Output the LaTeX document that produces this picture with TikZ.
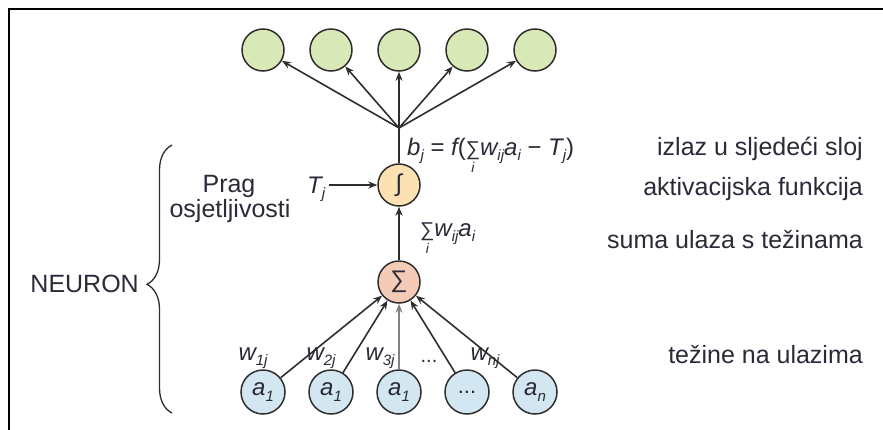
\documentclass[tikz,border=0pt]{standalone}
\usepackage{fontspec}
\setmainfont{Liberation Sans}
\usetikzlibrary{arrows.meta,decorations.pathreplacing}
\definecolor{txt}{HTML}{2A2A38}
\definecolor{ln}{HTML}{2E2E2E}
\definecolor{grn}{HTML}{D8E8B6}
\definecolor{org}{HTML}{FCE2B2}
\definecolor{sal}{HTML}{F4CBB6}
\definecolor{blu}{HTML}{D3E7F3}
\newcommand\sbs[1]{\raisebox{-0.45ex}{\fontsize{15}{15}\selectfont\itshape #1}}
\newcommand\sumi{\begin{tabular}[t]{@{}c@{}}\fontsize{20}{20}\selectfont\char"2211\\[-9pt]\fontsize{14}{14}\selectfont\itshape i\end{tabular}}
\begin{document}
\begin{tikzpicture}[x=1pt,y=-1pt,
  every node/.style={text=txt},
  lbl/.style={font=\fontsize{25}{28}\selectfont},
  mth/.style={font=\fontsize{24}{26}\selectfont},
  neur/.style={circle,draw=ln,line width=1.5pt,minimum size=42pt,inner sep=0pt},
  outn/.style={neur,fill=grn},
  inn/.style={neur,fill=blu,minimum size=44pt},
  conn/.style={draw=ln,line width=1.6pt},
  arr/.style={conn,-{Stealth[length=9pt,width=7pt]}}
]
\useasboundingbox (0,0) rectangle (883,429);
\clip (0,0) rectangle (883,429);
\draw[line width=2.5pt,black] (9,440) -- (9,9) -- (900,9);

% output layer
\foreach \i/\x in {1/263,2/331,3/399,4/467,5/535}
  \node[outn] (o\i) at (\x,50) {};
\coordinate (c) at (399,128);

% neuron parts
\node[neur,fill=org] (act) at (399,185) {\fontsize{24}{24}\selectfont\char"222B};
\node[neur,fill=sal] (sum) at (399,282) {\fontsize{24}{24}\selectfont\char"2211};

% inputs
\node[inn] (i1) at (263,392) {\fontsize{24}{24}\selectfont\itshape a\sbs{1}};
\node[inn] (i2) at (331,392) {\fontsize{24}{24}\selectfont\itshape a\sbs{1}};
\node[inn] (i3) at (399,392) {\fontsize{24}{24}\selectfont\itshape a\sbs{1}};
\node[inn] (i4) at (467,392) {\fontsize{22}{22}\selectfont ...};
\node[inn] (i5) at (535,392) {\fontsize{24}{24}\selectfont\itshape a\sbs{n}};

% connectors
\draw[conn] (act) -- (c);
\foreach \i in {1,...,5} \draw[arr] (c) -- (o\i);
\draw[arr] (sum) -- (act);
\draw[arr] (i1) -- (sum);
\draw[arr] (i2) -- (sum);
\draw[arr,draw=ln!60] (i3) -- (sum);
\draw[arr] (i4) -- (sum);
\draw[arr] (i5) -- (sum);

% threshold
\node[mth,anchor=base west,inner sep=0pt] (tj) at (307,193) {\itshape T\sbs{j}};
\coordinate (tjs) at ([xshift=4pt]tj.east |- act.west);
\draw[arr] (tjs) -- (act.west);
\node[lbl,anchor=base,inner sep=0pt] (prag) at (229,192) {Prag};
\node[lbl,anchor=base,inner sep=0pt] (osj) at (230,217) {osjetljivosti};

% formulas
\node[mth,anchor=base west,inner sep=0pt] (fb) at (407,155)
  {\itshape b\sbs{j}\upshape\ = \itshape f\upshape(\sumi\itshape w\sbs{ij}a\sbs{i}\upshape\ \char"2212\ \itshape T\sbs{j}\upshape)};
\node[mth,anchor=base west,inner sep=0pt] (fs) at (420,236)
  {\sumi\itshape w\sbs{ij}a\sbs{i}};

% weights
\node[mth,anchor=base,inner sep=0pt] (w1) at (253,360) {\itshape w\sbs{1j}};
\node[mth,anchor=base,inner sep=0pt] (w2) at (321,360) {\itshape w\sbs{2j}};
\node[mth,anchor=base,inner sep=0pt] (w3) at (380,360) {\itshape w\sbs{3j}};
\node[mth,anchor=base,inner sep=0pt] (wd) at (429,362) {\fontsize{20}{20}\selectfont ...};
\node[mth,anchor=base,inner sep=0pt] (wn) at (485,360) {\itshape w\sbs{nj}};

% right descriptions
\node[lbl,anchor=base east,inner sep=0pt] (d1) at (863,155) {izlaz u sljedeći sloj};
\node[lbl,anchor=base east,inner sep=0pt] (d2) at (863,195) {aktivacijska funkcija};
\node[lbl,anchor=base east,inner sep=0pt] (d3) at (863,248) {suma ulaza s težinama};
\node[lbl,anchor=base east,inner sep=0pt] (d4) at (863,363) {težine na ulazima};

% brace and NEURON
\draw[ln,line width=1.3pt,decorate,decoration={brace,amplitude=25pt,aspect=0.48}] (172,413) -- (172,145);
\node[lbl,anchor=base east,inner sep=0pt] (neuron) at (139,292) {NEURON};
\end{tikzpicture}
\end{document}
